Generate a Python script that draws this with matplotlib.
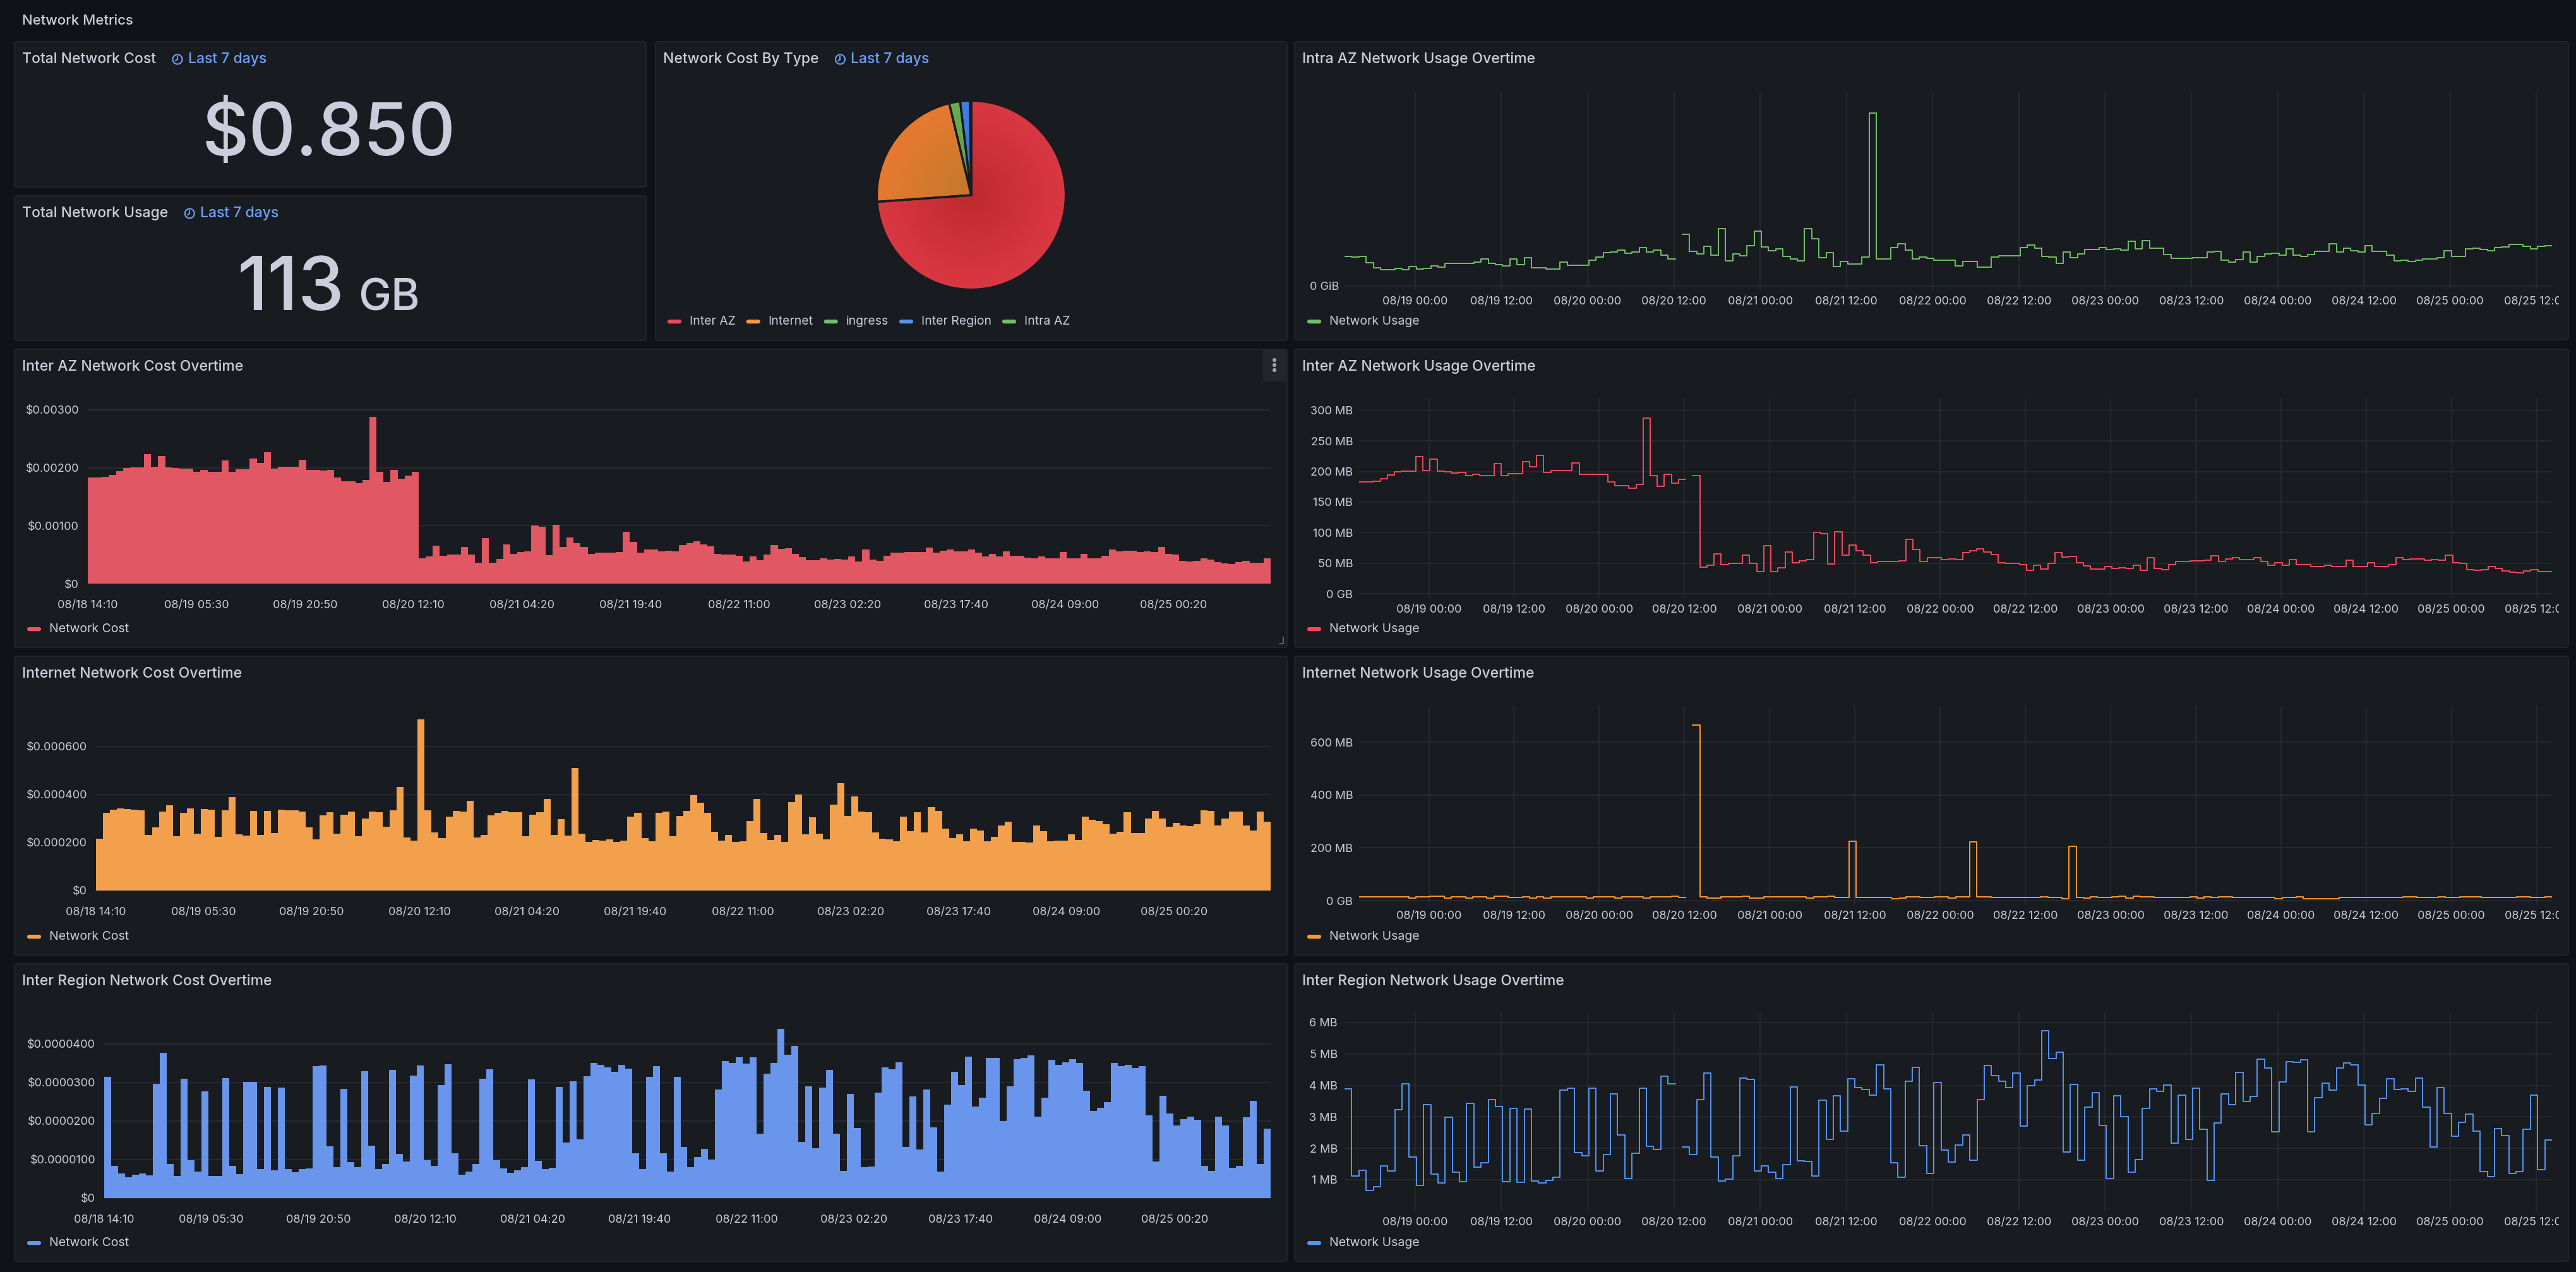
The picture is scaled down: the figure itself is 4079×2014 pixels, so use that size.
import numpy as np
import pandas as pd
import matplotlib
matplotlib.use('Agg')
import matplotlib.pyplot as plt
import matplotlib.dates as mdates
from matplotlib.patches import FancyBboxPatch, Circle
from matplotlib.transforms import Bbox, TransformedBbox

nan = np.nan

# ---------------- data ----------------
total_cost = 0.850
total_usage = 113
total_usage_unit = 'GB'

pie_labels = ['Inter AZ', 'Internet', 'ingress', 'Inter Region', 'Intra AZ']
pie_values = [0.628, 0.190, 0.016, 0.014, 0.002]

# bar charts use a categorical x axis (one bar per hour), labels every ~15.4 bars
cost_tick_labels = ['08/18 14:10', '08/19 05:30', '08/19 20:50', '08/20 12:10', '08/21 04:20',
                    '08/21 19:40', '08/22 11:00', '08/23 02:20', '08/23 17:40', '08/24 09:00',
                    '08/25 00:20']

# Inter AZ cost ($ per hour)
inter_az_cost = [
    0.00183, 0.00183, 0.00184, 0.00188, 0.00194, 0.00200, 0.00201, 0.00201, 0.00224, 0.00202,
    0.00220, 0.00201, 0.00200, 0.00198, 0.00199, 0.00193, 0.00196, 0.00193, 0.00193, 0.00213,
    0.00193, 0.00197, 0.00197, 0.00216, 0.00208, 0.00227, 0.00199, 0.00202, 0.00202, 0.00202,
    0.00214, 0.00196, 0.00196, 0.00195, 0.00196, 0.00183, 0.00177, 0.00177, 0.00173, 0.00179,
    0.00288, 0.00193, 0.00176, 0.00196, 0.00181, 0.00187, 0.00193,
    0.00044, 0.00047, 0.00065, 0.00048, 0.00050, 0.00050, 0.00063, 0.00050, 0.00036, 0.00079,
    0.00036, 0.00042, 0.00068, 0.00051, 0.00054, 0.00056, 0.00100, 0.00098, 0.00049, 0.00101,
    0.00063, 0.00080, 0.00070, 0.00063, 0.00051, 0.00053, 0.00053, 0.00053, 0.00054, 0.00089,
    0.00072, 0.00053, 0.00059, 0.00059, 0.00056, 0.00057, 0.00056, 0.00067, 0.00070, 0.00073,
    0.00068, 0.00064, 0.00051, 0.00050, 0.00050, 0.00048, 0.00038, 0.00047, 0.00040, 0.00050,
    0.00067, 0.00060, 0.00061, 0.00051, 0.00046, 0.00040, 0.00040, 0.00044, 0.00041, 0.00042,
    0.00041, 0.00047, 0.00038, 0.00059, 0.00041, 0.00039, 0.00048, 0.00053, 0.00053, 0.00054,
    0.00054, 0.00055, 0.00062, 0.00053, 0.00057, 0.00059, 0.00056, 0.00056, 0.00059, 0.00053,
    0.00047, 0.00051, 0.00047, 0.00056, 0.00048, 0.00048, 0.00045, 0.00044, 0.00047, 0.00044,
    0.00044, 0.00055, 0.00044, 0.00044, 0.00051, 0.00044, 0.00044, 0.00048, 0.00059, 0.00056,
    0.00057, 0.00057, 0.00055, 0.00056, 0.00055, 0.00063, 0.00051, 0.00050, 0.00039, 0.00038,
    0.00039, 0.00044, 0.00041, 0.00037, 0.00035, 0.00034, 0.00037, 0.00039, 0.00036, 0.00036,
    0.00044,
]

# Internet cost (micro-dollars per hour)
internet_cost_u = [
    217, 323, 336, 343, 340, 338, 335, 232, 262, 330, 354, 226, 323, 343, 237, 339, 337, 223, 335, 389,
    233, 229, 332, 232, 332, 239, 337, 334, 334, 329, 264, 213, 312, 327, 236, 317, 329, 226, 300, 328,
    326, 267, 334, 432, 220, 208, 713, 334, 241, 218, 308, 332, 329, 374, 220, 232, 314, 323, 332, 325,
    325, 226, 315, 325, 381, 232, 296, 230, 511, 238, 203, 211, 209, 213, 202, 209, 308, 324, 218, 206,
    324, 328, 225, 310, 332, 397, 367, 323, 245, 208, 232, 203, 206, 289, 381, 240, 210, 231, 202, 369,
    399, 235, 306, 238, 214, 358, 447, 310, 392, 330, 325, 241, 216, 213, 206, 308, 246, 325, 241, 346,
    332, 258, 219, 234, 204, 257, 251, 206, 224, 270, 287, 203, 203, 201, 271, 248, 205, 209, 209, 235,
    210, 309, 294, 289, 277, 237, 245, 325, 240, 239, 299, 332, 299, 267, 281, 271, 268, 275, 334, 332,
    271, 300, 330, 330, 271, 251, 330, 286,
]

# Inter Region cost (micro-dollars per hour)
inter_region_cost_u = [
    31.5, 8.3, 6.4, 5.4, 6.1, 6.4, 5.9, 29.6, 37.6, 8.9,
    5.7, 31.0, 9.8, 6.8, 27.7, 5.8, 5.7, 31.2, 8.3, 6.2,
    30.1, 30.1, 7.5, 28.9, 7.2, 28.7, 7.5, 6.7, 7.5, 7.7,
    34.2, 34.4, 13.5, 8.0, 28.4, 9.4, 8.0, 32.9, 13.6, 7.5,
    8.8, 33.3, 11.5, 9.5, 31.8, 34.4, 9.9, 8.4, 29.3, 34.8,
    11.6, 6.1, 6.9, 8.8, 31.0, 33.4, 9.8, 7.7, 6.5, 7.2,
    8.0, 30.8, 9.7, 7.6, 7.9, 28.9, 14.4, 30.3, 15.2, 31.7,
    35.0, 34.5, 33.9, 32.7, 34.6, 33.6, 11.7, 7.6, 31.5, 34.2,
    11.6, 6.8, 31.5, 13.3, 8.1, 10.6, 12.8, 10.0, 28.2, 35.6,
    35.0, 36.5, 34.9, 36.5, 16.7, 32.2, 35.1, 43.9, 37.2, 39.5,
    14.6, 29.0, 12.9, 28.6, 33.2, 16.7, 7.1, 27.0, 18.2, 8.0,
    8.2, 27.4, 33.9, 33.5, 35.3, 13.3, 26.4, 12.6, 28.2, 18.4,
    6.8, 24.3, 32.7, 29.3, 36.7, 23.8, 26.0, 36.3, 36.3, 20.0,
    29.0, 36.1, 36.3, 37.0, 21.2, 26.0, 35.8, 34.5, 35.2, 36.1,
    35.0, 27.9, 22.6, 23.4, 24.9, 35.0, 34.2, 34.6, 33.8, 34.2,
    21.4, 9.5, 26.6, 22.0, 18.9, 20.5, 21.1, 20.3, 8.4, 7.1,
    21.1, 18.8, 7.9, 8.3, 20.9, 25.3, 8.9, 18.0,
]

# usage series are hourly, on a real time axis
usage_start = '2024-08-18 14:10'

# Intra AZ usage (relative units, the axis only shows "0 GiB")
intra_az_usage = [
    15.3, 14.8, 15.3, 12.1, 9.5, 8.5, 8.5, 9.2, 8.3, 10.1,
    8.7, 9.0, 10.4, 9.7, 11.8, 11.8, 11.8, 11.8, 12.2, 14.0,
    11.8, 11.0, 10.4, 14.1, 11.1, 14.5, 9.5, 9.5, 8.7, 8.7,
    12.4, 10.7, 10.7, 10.7, 13.3, 14.9, 17.1, 17.5, 18.5, 16.9,
    17.4, 19.7, 17.5, 18.5, 16.0, 14.0, nan, 26.7, 17.7, 16.6,
    20.6, 16.0, 29.5, 12.9, 16.6, 15.5, 20.9, 28.2, 20.0, 18.1,
    19.0, 15.1, 14.1, 13.0, 29.5, 24.4, 14.6, 17.1, 10.2, 12.5,
    11.4, 11.4, 14.8, 89.0, 13.9, 13.9, 19.8, 21.8, 18.5, 14.0,
    14.8, 14.3, 13.3, 13.3, 13.3, 10.4, 12.5, 12.7, 9.6, 9.6,
    14.8, 15.6, 15.6, 15.6, 19.8, 21.2, 19.5, 15.2, 14.8, 11.6,
    17.4, 14.5, 16.6, 18.8, 18.8, 19.8, 18.8, 19.1, 18.5, 23.2,
    19.0, 23.4, 19.5, 19.5, 16.2, 14.3, 14.3, 14.3, 14.6, 14.6,
    17.5, 18.0, 13.4, 12.3, 13.7, 17.4, 12.3, 15.2, 16.6, 16.9,
    15.8, 19.0, 16.0, 15.3, 16.2, 17.7, 17.7, 21.6, 17.4, 19.5,
    18.1, 17.6, 20.9, 17.7, 17.7, 16.0, 13.0, 13.3, 12.7, 13.3,
    14.1, 14.1, 14.5, 18.1, 15.1, 15.1, 19.1, 19.6, 18.9, 18.3,
    19.8, 20.0, 21.3, 21.3, 20.6, 19.0, 20.3, 20.9,
]

# Inter AZ usage (MB)
inter_az_usage = [
    183, 183, 184, 188, 194, 200, 201, 201, 224, 202,
    220, 201, 200, 198, 199, 193, 196, 193, 193, 213,
    193, 197, 197, 216, 208, 227, 199, 202, 202, 202,
    214, 196, 196, 195, 196, 183, 177, 177, 173, 179,
    288, 193, 176, 196, 181, 187, nan, 193,
    43, 47, 65, 48, 50, 50, 63, 50, 36, 79,
    36, 42, 68, 51, 54, 56, 100, 98, 49, 101,
    63, 80, 70, 63, 51, 53, 53, 53, 54, 89,
    72, 53, 59, 59, 56, 57, 56, 67, 70, 73,
    68, 64, 51, 50, 50, 48, 38, 47, 40, 50,
    67, 60, 61, 51, 46, 40, 40, 44, 41, 42,
    41, 47, 38, 59, 41, 39, 48, 53, 53, 54,
    54, 55, 62, 53, 57, 59, 56, 56, 59, 53,
    47, 51, 47, 56, 48, 48, 45, 44, 47, 44,
    44, 55, 44, 44, 51, 44, 44, 48, 59, 56,
    57, 57, 55, 56, 55, 63, 51, 50, 39, 38,
    39, 44, 41, 37, 35, 34, 37, 39, 36, 36,
]

# Internet usage (MB)
internet_usage = [
    14, 14, 14, 14, 14, 14, 14, 10, 14, 14,
    18, 17, 10, 14, 14, 10, 14, 14, 10, 16,
    18, 12, 12, 14, 10, 14, 10, 14, 14, 14,
    14, 14, 10, 14, 14, 14, 10, 14, 14, 14,
    10, 14, 14, 14, 17, 12, nan, 665, 14, 10,
    10, 14, 14, 14, 17, 10, 10, 14, 14, 14,
    14, 14, 14, 10, 14, 14, 17, 12, 12, 225,
    12, 12, 12, 12, 12, 8, 10, 14, 14, 12,
    12, 14, 14, 10, 14, 14, 223, 14, 14, 12,
    12, 12, 12, 12, 12, 12, 14, 12, 12, 8,
    207, 12, 10, 14, 12, 12, 14, 17, 10, 17,
    14, 14, 12, 12, 12, 12, 12, 14, 10, 14,
    12, 14, 14, 12, 12, 12, 12, 12, 12, 8,
    12, 12, 14, 8, 8, 8, 8, 8, 12, 12,
    12, 12, 12, 12, 12, 12, 12, 14, 14, 12,
    12, 12, 14, 12, 12, 14, 14, 14, 12, 12,
    12, 12, 12, 14, 14, 12, 12, 14,
]

# Inter Region usage (MB)
inter_region_usage = [
    3.89, 1.13, 1.31, 0.66, 0.77, 1.44, 1.29, 3.22, 4.06, 1.72,
    0.81, 3.39, 1.18, 0.89, 2.99, 1.25, 0.93, 3.42, 1.40, 1.55,
    3.54, 3.32, 0.93, 3.27, 0.91, 3.24, 0.95, 0.89, 0.98, 1.08,
    3.85, 3.92, 1.86, 1.76, 3.92, 1.29, 1.80, 3.74, 2.42, 1.03,
    1.84, 3.91, 2.06, 1.97, 4.29, 4.06, nan, 2.05, 1.80, 3.54,
    4.40, 1.72, 0.95, 1.01, 1.77, 4.24, 4.19, 1.29, 1.44, 1.25,
    1.03, 1.49, 3.96, 1.60, 1.58, 1.13, 3.52, 2.28, 3.67, 2.54,
    4.21, 3.94, 3.88, 3.69, 4.65, 3.89, 1.54, 1.08, 4.14, 4.57,
    2.08, 1.20, 4.10, 1.95, 1.56, 2.10, 2.43, 1.63, 3.54, 4.63,
    4.31, 4.14, 3.94, 4.39, 2.70, 4.00, 4.17, 5.73, 4.85, 5.05,
    1.88, 4.04, 1.63, 3.31, 3.77, 2.72, 1.03, 3.66, 3.01, 1.25,
    1.65, 3.27, 3.89, 3.81, 4.01, 2.17, 3.70, 2.28, 3.91, 2.61,
    0.97, 2.81, 3.74, 3.39, 4.41, 3.49, 3.64, 4.84, 4.55, 2.52,
    4.11, 4.76, 4.74, 4.81, 2.52, 3.61, 4.08, 3.86, 4.55, 4.71,
    4.65, 4.01, 2.75, 3.11, 3.58, 4.22, 3.87, 3.90, 3.82, 4.24,
    3.31, 2.05, 3.94, 3.11, 2.38, 2.82, 3.09, 2.54, 1.26, 1.11,
    2.62, 2.40, 1.21, 1.27, 2.60, 3.69, 1.33, 2.27,
]

# ---------------- styling ----------------
W, H = 4080, 2014
BG = '#111217'
PANEL = '#181b1f'
BORDER = '#25272c'
TEXT = '#ccccdc'
GRID = '#2a2c31'
LINK = '#6e9fff'
RED, ORANGE, GREEN, BLUE = '#f2495c', '#ff9830', '#73bf69', '#5794f2'

TITLE_FS = 16.5
TICK_FS = 13
LEG_FS = 14

plt.rcParams['font.family'] = ['Inter', 'DejaVu Sans']

fig = plt.figure(figsize=(W / 100, H / 100), dpi=100, facecolor=BG)
bg = fig.add_axes([0, 0, 1, 1])
bg.set_xlim(0, W)
bg.set_ylim(H, 0)
bg.axis('off')
bg.set_zorder(0)
renderer = fig.canvas.get_renderer()


def px_axes(x0, y0, x1, y1):
    ax = fig.add_axes([x0 / W, 1 - y1 / H, (x1 - x0) / W, (y1 - y0) / H])
    ax.set_facecolor('none')
    ax.set_zorder(2)
    for s in ax.spines.values():
        s.set_visible(False)
    ax.tick_params(length=0, colors=TEXT, labelsize=TICK_FS)
    return ax


def right_edge(t):
    return t.get_window_extent(renderer).x1


def panel(box, title):
    x0, y0, x1, y1 = box
    bg.add_patch(FancyBboxPatch((x0, y0), x1 - x0, y1 - y0,
                                boxstyle='round,pad=0,rounding_size=4',
                                fc=PANEL, ec=BORDER, lw=1.3))
    return bg.text(x0 + 12, y0 + 28, title, color=TEXT, fontsize=TITLE_FS,
                   fontweight='medium', va='center', ha='left')


def time_badge(title_text, y):
    x = right_edge(title_text)
    cx = x + 34
    bg.add_patch(Circle((cx, y), 7.5, fill=False, ec=LINK, lw=1.5))
    bg.plot([cx, cx], [y, y - 4.5], color=LINK, lw=1.4)
    bg.plot([cx, cx - 3], [y, y + 2], color=LINK, lw=1.4)
    bg.text(x + 51, y, 'Last 7 days', color=LINK, fontsize=TITLE_FS,
            fontweight='medium', va='center', ha='left')


def legend_item(x, y, color, label):
    bg.add_patch(FancyBboxPatch((x, y - 3), 22, 6.3, boxstyle='round,pad=0,rounding_size=3',
                                fc=color, ec='none'))
    t = bg.text(x + 35, y, label, color=TEXT, fontsize=LEG_FS, va='center', ha='left')
    return right_edge(t)


def cost_chart(box, plot, values, color, ylim, yticks, ylabels, ypad, label):
    ax = px_axes(*plot)
    n = len(values)
    ax.stairs(values, np.arange(n + 1), fill=True, color=color, baseline=0, zorder=3)
    ax.set_xlim(0, n)
    ax.set_ylim(*ylim)
    ax.set_yticks(yticks, ylabels)
    ax.set_xticks(np.arange(len(cost_tick_labels)) * 15.42, cost_tick_labels)
    ax.grid(axis='y', color=GRID, lw=1.3, zorder=0)
    ax.set_axisbelow(True)
    ax.tick_params(axis='y', pad=ypad)
    ax.tick_params(axis='x', pad=17.5)
    legend_item(box[0] + 20, box[3] - 29, color, label)
    return ax


times = pd.date_range(usage_start, periods=168, freq='h')
t_end = times[-1] + pd.Timedelta(hours=1)


def usage_chart(box, plot, values, color, ylim, yticks, ylabels, ypad, label):
    ax = px_axes(*plot)
    xs = list(times) + [t_end]
    ys = list(values) + [values[-1]]
    ax.step(xs, ys, where='post', color=color, lw=1.4, zorder=3)
    ax.set_xlim(times[0], t_end)
    ax.set_ylim(*ylim)
    ax.set_yticks(yticks, ylabels)
    ax.xaxis.set_major_locator(mdates.HourLocator(byhour=[0, 12]))
    ax.xaxis.set_major_formatter(mdates.DateFormatter('%m/%d %H:%M'))
    ax.grid(True, color=GRID, lw=1.1, zorder=0)
    ax.set_axisbelow(True)
    ax.tick_params(axis='y', pad=ypad)
    ax.tick_params(axis='x', pad=7)
    clip = TransformedBbox(Bbox.from_extents(box[0] / W, 1 - box[3] / H, (box[2] - 15) / W, 1 - box[1] / H),
                           fig.transFigure)
    for lbl in ax.get_xticklabels():
        lbl.set_clip_box(clip)
        lbl.set_clip_on(True)
    legend_item(box[0] + 20, box[3] - 29, color, label)
    return ax


# ---------------- header ----------------
bg.text(35, 33, 'Network Metrics', color=TEXT, fontsize=16, fontweight='medium', va='center', ha='left')

# ---------------- stat panels ----------------
p1 = (23, 66, 1023, 296)
t1 = panel(p1, 'Total Network Cost')
time_badge(t1, 94)
bg.text(521, 246, f'${total_cost:.3f}', color=TEXT, fontsize=83, fontweight='medium',
        ha='center', va='baseline')

p2 = (23, 310, 1023, 539)
t2 = panel(p2, 'Total Network Usage')
time_badge(t2, 338)
bg.text(546, 491, f'{total_usage}', color=TEXT, fontsize=84, fontweight='medium',
        ha='right', va='baseline')
bg.text(567, 491, total_usage_unit, color=TEXT, fontsize=50, fontweight='medium',
        ha='left', va='baseline')

# ---------------- pie ----------------
p3 = (1038, 66, 2038, 539)
t3 = panel(p3, 'Network Cost By Type')
time_badge(t3, 94)
pie_shades = [('#bf292e', '#da3843'), ('#c27a2b', '#e8792f'), ('#5e9a48', '#6cab52'),
              ('#326fd8', '#417fe8'), ('#5e9a48', '#6cab52')]
legend_colors = [RED, ORANGE, GREEN, BLUE, GREEN]
pax = px_axes(1387, 158, 1689, 460)
wedges, _ = pax.pie(pie_values, startangle=90, counterclock=False, radius=1,
                    colors=[c[1] for c in pie_shades],
                    wedgeprops=dict(edgecolor=PANEL, linewidth=2.4, joinstyle='round'))
gy, gx = np.mgrid[-1:1:400j, -1:1:400j]
rr = np.clip(np.hypot(gx, gy), 0, 1)[..., None]
for w, (c0, c1) in zip(wedges, pie_shades):
    a = np.array(matplotlib.colors.to_rgb(c0))
    b = np.array(matplotlib.colors.to_rgb(c1))
    img = a * (1 - rr) + b * rr
    im = pax.imshow(img, extent=(-1, 1, -1, 1), origin='lower', zorder=1, interpolation='bilinear')
    im.set_clip_path(w)
    w.set_facecolor('none')
    w.set_zorder(2)
pax.set_xlim(-1.01, 1.01)
pax.set_ylim(-1.01, 1.01)
pax.axis('off')

lx = 1057
for lab, col in zip(pie_labels, legend_colors):
    lx = legend_item(lx, 509, col, lab) + 17

# ---------------- time series panels ----------------
p4 = (2050, 66, 4067, 538)
panel(p4, 'Intra AZ Network Usage Overtime')
usage_chart(p4, (2129, 145, 4041, 459), intra_az_usage, '#73bf69', (-1.95, 100),
            [0], ['0 GiB'], 6, 'Network Usage')

p5 = (23, 553, 2038, 1025)
panel(p5, 'Inter AZ Network Cost Overtime')
cost_chart(p5, (139, 630, 2012, 926), inter_az_cost, '#e15763', (-0.0000218, 0.003207),
           [0, 0.001, 0.002, 0.003], ['$0', '$0.00100', '$0.00200', '$0.00300'], 10, 'Network Cost')
# hover menu + resize handle seen on this panel
bg.add_patch(FancyBboxPatch((2000, 554), 37, 50, boxstyle='round,pad=0,rounding_size=3',
                            fc='#23262c', ec='none'))
for dy in (570, 578, 586):
    bg.add_patch(Circle((2018, dy), 2.4, color='#9fa0a8'))
bg.plot([2032, 2032, 2026], [1009, 1019, 1019], color='#6c6e75', lw=1.2)

p6 = (2050, 553, 4067, 1025)
panel(p6, 'Inter AZ Network Usage Overtime')
usage_chart(p6, (2152, 631, 4041, 947), inter_az_usage, '#f2495c', (-7.2, 319.6),
            [0, 50, 100, 150, 200, 250, 300],
            ['0 GB', '50 MB', '100 MB', '150 MB', '200 MB', '250 MB', '300 MB'], 7, 'Network Usage')

p7 = (23, 1039, 2038, 1512)
panel(p7, 'Internet Network Cost Overtime')
cost_chart(p7, (152, 1120, 2012, 1412), internet_cost_u, '#f2a04b', (-5.3, 763),
           [0, 200, 400, 600], ['$0', '$0.000200', '$0.000400', '$0.000600'], 10, 'Network Cost')

p8 = (2050, 1039, 4067, 1512)
panel(p8, 'Internet Network Usage Overtime')
usage_chart(p8, (2152, 1117, 4041, 1432), internet_usage, '#ff9830', (-14, 739),
            [0, 200, 400, 600], ['0 GB', '200 MB', '400 MB', '600 MB'], 7, 'Network Usage')

p9 = (23, 1526, 2038, 1997)
panel(p9, 'Inter Region Network Cost Overtime')
cost_chart(p9, (165, 1615, 2012, 1899), inter_region_cost_u, '#6a95ec', (-0.33, 46.2),
           [0, 10, 20, 30, 40], ['$0', '$0.0000100', '$0.0000200', '$0.0000300', '$0.0000400'],
           10, 'Network Cost')

p10 = (2050, 1526, 4067, 1997)
panel(p10, 'Inter Region Network Usage Overtime')
usage_chart(p10, (2129, 1603, 4041, 1917), inter_region_usage, '#5794f2', (0.016, 6.32),
            [1, 2, 3, 4, 5, 6], ['1 MB', '2 MB', '3 MB', '4 MB', '5 MB', '6 MB'], 8, 'Network Usage')

fig.savefig('out.png', dpi=100, facecolor=BG)
